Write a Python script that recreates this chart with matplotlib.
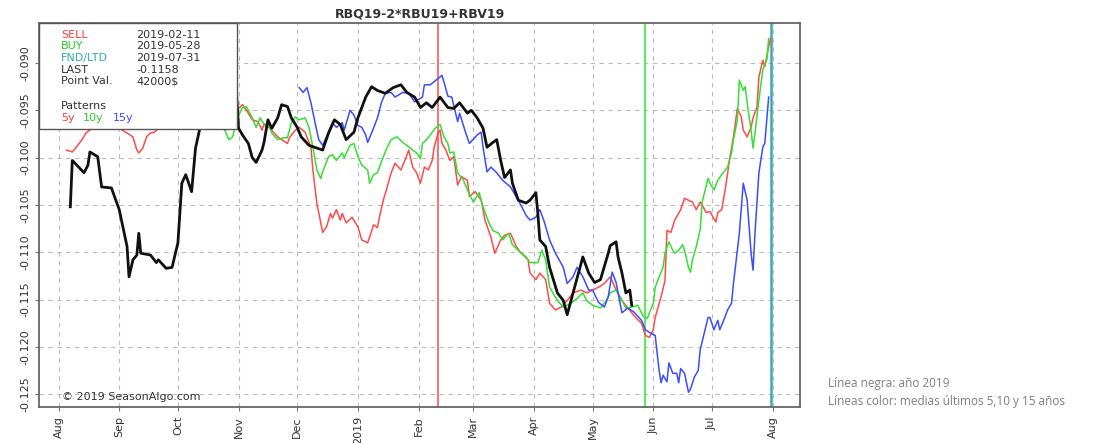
import numpy as np
import pandas as pd
import matplotlib
matplotlib.use("Agg")
import matplotlib.pyplot as plt
import matplotlib.dates as mdates
from matplotlib.patches import Rectangle

start = pd.Timestamp("2018-08-01")

# day offsets from 2018-08-01 and spread values
black_days = [6, 7, 8, 13, 15, 16, 20, 22, 27, 31, 35, 36, 38, 40, 41, 42, 47, 50, 51, 55, 58, 61, 63, 65, 68, 70, 72,
              75, 78, 82, 86, 90, 92, 94, 97, 99, 101, 104, 105, 107, 109, 112, 114, 117, 119, 122, 124, 128, 135, 138,
              141, 144, 147, 151, 153, 157, 160, 163, 167, 171, 175, 178, 182, 185, 188, 191, 195, 199, 202, 205, 209,
              211, 214, 217, 219, 222, 224, 226, 228, 231, 232, 235, 239, 241, 244, 245, 246, 249, 251, 255, 258, 260,
              263, 268, 271, 274, 277, 281, 282, 285, 286, 288, 290, 292, 293]
black_vals = [-0.1052, -0.1003, -0.1005, -0.1016, -0.1008, -0.0994, -0.0999, -0.1031, -0.1032, -0.1055, -0.1094, -0.1126,
              -0.1108, -0.1103, -0.1080, -0.1101, -0.1103, -0.1111, -0.1108, -0.1117, -0.1116, -0.1090, -0.1027, -0.1018,
              -0.1036, -0.0990, -0.0971, -0.0944, -0.0934, -0.0918, -0.0907, -0.0897, -0.0969, -0.0976, -0.0985, -0.1000,
              -0.1005, -0.0992, -0.0984, -0.0960, -0.0969, -0.0958, -0.0944, -0.0946, -0.0958, -0.0968, -0.0978, -0.0987,
              -0.0992, -0.0974, -0.0960, -0.0965, -0.0981, -0.0973, -0.0958, -0.0936, -0.0925, -0.0929, -0.0932, -0.0926,
              -0.0923, -0.0931, -0.0936, -0.0947, -0.0942, -0.0947, -0.0936, -0.0947, -0.0948, -0.0942, -0.0953, -0.0950,
              -0.0958, -0.0969, -0.0989, -0.0984, -0.0981, -0.1003, -0.1021, -0.1013, -0.1027, -0.1045, -0.1048, -0.1045,
              -0.1037, -0.1059, -0.1087, -0.1094, -0.1116, -0.1143, -0.1151, -0.1166, -0.1143, -0.1105, -0.1122, -0.1132,
              -0.1129, -0.1101, -0.1093, -0.1089, -0.1105, -0.1122, -0.1143, -0.1140, -0.1156]

red_days = [4, 7, 9, 12, 14, 17, 21, 26, 31, 35, 38, 40, 41, 43, 45, 47, 49, 51, 57, 65, 72, 80, 85, 87, 90, 91, 94, 97,
            99, 102, 104, 105, 108, 112, 114, 117, 118, 121, 123, 126, 129, 130, 132, 134, 135, 137, 139, 140, 142, 144,
            145, 147, 150, 153, 155, 158, 159, 161, 163, 164, 166, 168, 170, 172, 175, 177, 179, 181, 183, 185, 187, 189,
            191, 192, 194, 195, 196, 198, 200, 202, 204, 206, 209, 210, 213, 216, 218, 221, 223, 226, 228, 231, 234, 236,
            240, 241, 244, 246, 249, 251, 254, 257, 260, 263, 267, 270, 273, 276, 279, 282, 285, 288, 291, 295, 298, 300,
            302, 304, 305, 307, 308, 310, 311, 313, 315, 318, 320, 322, 324, 326, 328, 329, 331, 333, 336, 337, 339, 341,
            343, 345, 347, 349, 350, 352, 354, 355, 357, 358, 360, 361, 363, 364]
red_vals = [-0.0992, -0.0994, -0.0989, -0.0981, -0.0974, -0.0969, -0.0960, -0.0958, -0.0969, -0.0974, -0.0978, -0.0992,
            -0.0995, -0.0990, -0.0978, -0.0974, -0.0973, -0.0969, -0.0960, -0.0958, -0.0955, -0.0960, -0.0971, -0.0969,
            -0.0962, -0.0950, -0.0944, -0.0953, -0.0960, -0.0962, -0.0971, -0.0964, -0.0969, -0.0978, -0.0981, -0.0985,
            -0.0979, -0.0971, -0.0968, -0.0973, -0.0989, -0.1013, -0.1048, -0.1069, -0.1079, -0.1073, -0.1059, -0.1064,
            -0.1055, -0.1066, -0.1059, -0.1069, -0.1063, -0.1073, -0.1087, -0.1090, -0.1084, -0.1071, -0.1074, -0.1063,
            -0.1045, -0.1031, -0.1016, -0.1006, -0.1013, -0.1003, -0.0992, -0.1010, -0.1016, -0.1027, -0.1010, -0.1013,
            -0.1003, -0.0989, -0.0974, -0.0971, -0.0985, -0.0992, -0.1003, -0.0999, -0.1029, -0.1020, -0.1024, -0.1041,
            -0.1036, -0.1045, -0.1066, -0.1084, -0.1101, -0.1087, -0.1082, -0.1080, -0.1094, -0.1100, -0.1108, -0.1122,
            -0.1129, -0.1122, -0.1129, -0.1154, -0.1161, -0.1158, -0.1151, -0.1143, -0.1140, -0.1143, -0.1140, -0.1137,
            -0.1133, -0.1126, -0.1140, -0.1151, -0.1159, -0.1169, -0.1175, -0.1188, -0.1190, -0.1182, -0.1169, -0.1154,
            -0.1147, -0.1130, -0.1077, -0.1079, -0.1066, -0.1055, -0.1043, -0.1045, -0.1047, -0.1055, -0.1047, -0.1050,
            -0.1058, -0.1057, -0.1068, -0.1058, -0.1055, -0.1031, -0.1002, -0.0978, -0.0948, -0.0957, -0.0971, -0.0978,
            -0.0968, -0.0958, -0.0947, -0.0915, -0.0897, -0.0904, -0.0883, -0.0874]

green_days = [4, 11, 21, 31, 41, 44, 47, 57, 67, 77, 82, 85, 87, 89, 91, 94, 96, 99, 101, 103, 106, 107, 109, 112, 115,
              117, 119, 121, 123, 126, 128, 130, 132, 134, 135, 138, 140, 142, 145, 146, 149, 151, 153, 155, 158, 159,
              161, 163, 166, 168, 170, 173, 176, 178, 181, 183, 185, 186, 189, 191, 193, 195, 197, 199, 200, 202, 204,
              207, 209, 212, 215, 217, 220, 222, 225, 227, 230, 232, 235, 239, 241, 245, 247, 249, 251, 255, 258, 262,
              265, 268, 270, 273, 277, 280, 282, 285, 287, 290, 293, 296, 299, 301, 302, 304, 305, 307, 309, 310, 312,
              314, 315, 317, 319, 320, 322, 323, 324, 326, 328, 329, 332, 333, 335, 337, 339, 342, 344, 345, 347, 348,
              350, 351, 352, 354, 355, 356, 358, 360, 362, 363]
green_vals = [-0.0960, -0.0958, -0.0955, -0.0958, -0.0965, -0.0970, -0.0962, -0.0955, -0.0952, -0.0958, -0.0965, -0.0971,
              -0.0981, -0.0978, -0.0960, -0.0947, -0.0946, -0.0958, -0.0968, -0.0958, -0.0968, -0.0962, -0.0974, -0.0981,
              -0.0979, -0.0979, -0.0963, -0.0957, -0.0960, -0.0958, -0.0968, -0.0989, -0.1013, -0.1022, -0.1015, -0.0999,
              -0.0997, -0.1003, -0.0995, -0.1000, -0.0987, -0.0985, -0.0999, -0.1008, -0.1013, -0.1027, -0.1018, -0.1016,
              -0.0999, -0.0989, -0.0981, -0.0978, -0.0984, -0.0987, -0.0992, -0.0995, -0.1001, -0.0985, -0.0979, -0.0973,
              -0.0968, -0.0965, -0.0978, -0.0985, -0.0995, -0.0994, -0.1016, -0.1024, -0.1034, -0.1047, -0.1037, -0.1052,
              -0.1069, -0.1077, -0.1080, -0.1087, -0.1080, -0.1092, -0.1098, -0.1105, -0.1111, -0.1111, -0.1098, -0.1108,
              -0.1137, -0.1151, -0.1158, -0.1154, -0.1149, -0.1143, -0.1151, -0.1156, -0.1159, -0.1151, -0.1143, -0.1140,
              -0.1147, -0.1159, -0.1158, -0.1156, -0.1168, -0.1170, -0.1164, -0.1154, -0.1137, -0.1126, -0.1116, -0.1101,
              -0.1089, -0.1098, -0.1101, -0.1098, -0.1092, -0.1098, -0.1116, -0.1121, -0.1108, -0.1094, -0.1076, -0.1047,
              -0.1022, -0.1027, -0.1034, -0.1024, -0.1018, -0.1010, -0.0995, -0.0981, -0.0960, -0.0918, -0.0929, -0.0925,
              -0.0942, -0.0971, -0.0990, -0.0974, -0.0939, -0.0907, -0.0897, -0.0874]

blue_days = [123, 125, 127, 129, 131, 133, 135, 138, 140, 142, 145, 146, 149, 151, 153, 155, 157, 158, 160, 163, 165, 167,
             170, 172, 176, 179, 182, 186, 187, 190, 193, 196, 197, 199, 201, 204, 205, 208, 210, 214, 216, 217, 219, 221,
             224, 227, 231, 235, 239, 241, 244, 246, 248, 251, 254, 258, 260, 263, 265, 268, 271, 273, 276, 279, 281, 283,
             285, 286, 288, 291, 294, 298, 300, 303, 305, 306, 307, 308, 309, 311, 312, 314, 316, 317, 318, 320, 322, 323,
             325, 327, 328, 330, 332, 333, 335, 337, 338, 340, 342, 344, 345, 348, 350, 352, 354, 355, 356, 358, 360, 361,
             363]
blue_vals = [-0.0926, -0.0931, -0.0926, -0.0942, -0.0962, -0.0981, -0.0987, -0.0973, -0.0963, -0.0968, -0.0963, -0.0971,
             -0.0950, -0.0955, -0.0966, -0.0968, -0.0976, -0.0984, -0.0974, -0.0958, -0.0942, -0.0932, -0.0931, -0.0936,
             -0.0931, -0.0932, -0.0941, -0.0936, -0.0923, -0.0923, -0.0918, -0.0913, -0.0920, -0.0935, -0.0936, -0.0962,
             -0.0953, -0.0973, -0.0985, -0.0976, -0.0973, -0.0989, -0.1015, -0.1010, -0.1016, -0.1024, -0.1031, -0.1045,
             -0.1061, -0.1066, -0.1063, -0.1055, -0.1066, -0.1087, -0.1101, -0.1116, -0.1133, -0.1126, -0.1116, -0.1126,
             -0.1140, -0.1140, -0.1153, -0.1158, -0.1147, -0.1121, -0.1132, -0.1143, -0.1164, -0.1159, -0.1163, -0.1172,
             -0.1182, -0.1186, -0.1188, -0.1207, -0.1225, -0.1238, -0.1230, -0.1237, -0.1217, -0.1228, -0.1228, -0.1238,
             -0.1223, -0.1228, -0.1248, -0.1245, -0.1232, -0.1225, -0.1203, -0.1186, -0.1169, -0.1169, -0.1182, -0.1172,
             -0.1182, -0.1172, -0.1161, -0.1154, -0.1133, -0.1080, -0.1027, -0.1045, -0.1101, -0.1119, -0.1080, -0.1016,
             -0.0989, -0.0985, -0.0936]

sell_date = "2019-02-11"
buy_date = "2019-05-28"
fnd_date = "2019-07-31"
last_val = -0.1158
point_val = "42000$"
title = "RBQ19-2*RBU19+RBV19"
month_labels = ["Aug", "Sep", "Oct", "Nov", "Dec", "2019", "Feb", "Mar", "Apr", "May", "Jun", "Jul", "Aug"]


def to_dates(days):
    return start + pd.to_timedelta(days, unit="D")


fig = plt.figure(figsize=(11.12, 4.43), dpi=100)
ax = fig.add_axes([0.0351, 0.0813, 0.6843, 0.8667])

ax.plot(to_dates(red_days), red_vals, color="#ff4a4a", lw=1.1, zorder=3)
ax.plot(to_dates(green_days), green_vals, color="#33e033", lw=1.1, zorder=3)
ax.plot(to_dates(blue_days), blue_vals, color="#3a4dff", lw=1.1, zorder=3)
ax.plot(to_dates(black_days), black_vals, color="#111111", lw=2.0, zorder=4)

ax.axvline(pd.Timestamp(sell_date), color="#ff7070", lw=1.4, zorder=2)
ax.axvline(pd.Timestamp(buy_date), color="#55ee55", lw=1.4, zorder=2)
ax.axvline(pd.Timestamp(fnd_date), color="#3aa9b0", lw=1.8, zorder=2)

ax.set_xlim(pd.Timestamp("2018-07-22"), pd.Timestamp("2019-08-15"))
ax.set_ylim(-0.12636, -0.08577)

month_starts = pd.date_range("2018-08-01", "2019-08-01", freq="MS")
ax.set_xticks(month_starts)
ax.set_xticklabels(month_labels, rotation=90, fontsize=8, color="#333333")
yt = np.arange(-0.125, -0.0899, 0.005)
ax.set_yticks(yt)
ax.set_yticklabels(["%.3f" % v for v in yt], rotation=90, va="center", fontsize=8, color="#333333")
ax.tick_params(length=3, color="#777777")

ax.grid(True, linestyle=(0, (4, 4)), color="#bbbbbb", lw=0.8)
ax.set_axisbelow(True)
for s in ax.spines.values():
    s.set_color("#666666")
    s.set_linewidth(1.3)

ax.set_title(title, fontsize=9, fontweight="bold", color="#333333", pad=4)

# info box in the upper left corner
box = Rectangle((0, 0.724), 0.26, 0.276, transform=ax.transAxes, facecolor="white",
                edgecolor="#555555", lw=1.0, zorder=6)
ax.add_patch(box)
rows = [("SELL", sell_date, "#ff3b3b"), ("BUY", buy_date, "#22cc22"), ("FND/LTD", fnd_date, "#33aaaa"),
        ("LAST", "%.4f" % last_val, "#333333"), ("Point Val.", point_val, "#333333")]
row_y = [0.969, 0.940, 0.909, 0.878, 0.849]
for (lab, val, col), yy in zip(rows, row_y):
    ax.text(0.029, yy, lab, color=col, fontsize=8, transform=ax.transAxes, va="center", zorder=7)
    ax.text(0.128, yy, val, color="#333333", fontsize=8, transform=ax.transAxes, va="center", zorder=7)
ax.text(0.029, 0.784, "Patterns", color="#333333", fontsize=8, transform=ax.transAxes, va="center", zorder=7)
ax.text(0.029, 0.753, "5y", color="#ff3b3b", fontsize=8, transform=ax.transAxes, va="center", zorder=7)
ax.text(0.057, 0.753, "10y", color="#22cc22", fontsize=8, transform=ax.transAxes, va="center", zorder=7)
ax.text(0.097, 0.753, "15y", color="#3a4dff", fontsize=8, transform=ax.transAxes, va="center", zorder=7)

ax.text(0.030, 0.027, "\u00a9 2019 SeasonAlgo.com", color="#333333", fontsize=8, transform=ax.transAxes,
        va="center", zorder=7)

fig.text(0.745, 0.135, "L\u00ednea negra: a\u00f1o 2019", fontsize=8.5, color="#7f7f7f",
         family="Open Sans", va="center")
fig.text(0.745, 0.094, "L\u00edneas color: medias \u00faltimos 5,10 y 15 a\u00f1os", fontsize=8.5,
         color="#7f7f7f", family="Open Sans", va="center")

fig.savefig("out.png", dpi=100)
